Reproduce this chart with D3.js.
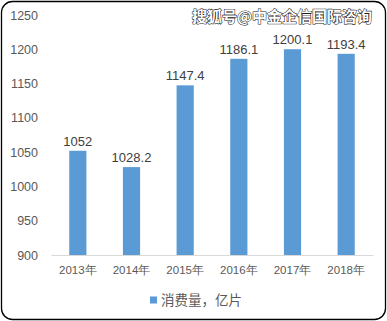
<!DOCTYPE html>
<html>
<head>
<meta charset="utf-8">
<script src="https://cdn.jsdelivr.net/npm/d3@7"></script>
<style>
  html, body { margin: 0; padding: 0; background: #fff; }
  svg { display: block; font-family: "Liberation Sans", Arial, "Noto Sans CJK SC", sans-serif; }
</style>
</head>
<body>
<div id="chart"></div>
<script>
// ── Data ───────────────────────────────────────────────────────────────────
const years  = ["2013年", "2014年", "2015年", "2016年", "2017年", "2018年"];
const values = [1052, 1028.2, 1147.4, 1186.1, 1200.1, 1193.4];
const yTicks = [900, 950, 1000, 1050, 1100, 1150, 1200, 1250];
const seriesName = "消费量，亿片";
const watermark  = "搜狐号@中金企信国际咨询";

// ── Layout ─────────────────────────────────────────────────────────────────
const W = 387, H = 321;
const PLOT = { left: 51, right: 373, top: 15, bottom: 255 };

const svg = d3.select("#chart").append("svg")
  .attr("width", W).attr("height", H);

// Frame
svg.append("rect")
  .attr("x", 1.5).attr("y", 1.5)
  .attr("width", W - 3).attr("height", H - 3)
  .attr("rx", 11).attr("ry", 11)
  .attr("fill", "#fff").attr("stroke", "#000").attr("stroke-width", 1.3);

// ── Scales ─────────────────────────────────────────────────────────────────
const x = d3.scaleBand()
  .domain(years)
  .range([PLOT.left, PLOT.right])
  .paddingInner(0.68)
  .paddingOuter(0.34);

const y = d3.scaleLinear()
  .domain([900, 1250])
  .range([PLOT.bottom, PLOT.top]);

// Y tick labels (no axis line)
const yAxis = svg.append("g")
  .attr("transform", `translate(${PLOT.left - 13},0)`)
  .call(d3.axisLeft(y).tickValues(yTicks).tickFormat(d3.format("d")).tickSize(0).tickPadding(0));
yAxis.select(".domain").remove();
yAxis.selectAll("text")
  .attr("fill", "#595959")
  .style("font-size", "12.5px");

// Bars
svg.selectAll("rect.bar")
  .data(values)
  .enter()
  .append("rect")
  .attr("class", "bar")
  .attr("x", (d, i) => x(years[i]))
  .attr("y", d => y(d))
  .attr("width", x.bandwidth())
  .attr("height", d => y(900) - y(d))
  .attr("fill", "#5b9bd5");

// X axis
const xAxis = svg.append("g")
  .attr("transform", `translate(0,${PLOT.bottom})`)
  .call(d3.axisBottom(x).tickSize(0).tickPadding(11));
xAxis.select(".domain").attr("stroke", "#d9d9d9").attr("stroke-width", 1.2);
xAxis.selectAll("text")
  .attr("fill", "#595959")
  .style("font-size", "11.5px");

// Value labels
svg.selectAll("text.val")
  .data(values)
  .enter()
  .append("text")
  .attr("class", "val")
  .attr("x", (d, i) => x(years[i]) + x.bandwidth() / 2)
  .attr("y", d => y(d) - 5)
  .attr("text-anchor", "middle")
  .attr("fill", "#404040")
  .style("font-size", "13px")
  .text(d => d);

// Legend
const legend = svg.append("g").attr("transform", "translate(150,300)");
legend.append("rect")
  .attr("x", 0).attr("y", -3.5)
  .attr("width", 7).attr("height", 7)
  .attr("fill", "#5b9bd5");
legend.append("text")
  .attr("x", 11).attr("y", 0)
  .attr("dy", "0.35em")
  .attr("fill", "#595959")
  .style("font-size", "13.5px")
  .style("font-family", "'Noto Sans CJK SC', sans-serif")
  .text(seriesName);

// Watermark
svg.append("text")
  .attr("x", 372).attr("y", 17)
  .attr("dy", "0.35em")
  .attr("text-anchor", "end")
  .attr("fill", "#fff")
  .attr("stroke", "#222")
  .attr("stroke-width", 1.1)
  .attr("paint-order", "stroke")
  .style("font-size", "15px")
  .style("font-weight", "bold")
  .style("font-family", "'Noto Sans CJK SC', sans-serif")
  .text(watermark);
</script>
</body>
</html>
